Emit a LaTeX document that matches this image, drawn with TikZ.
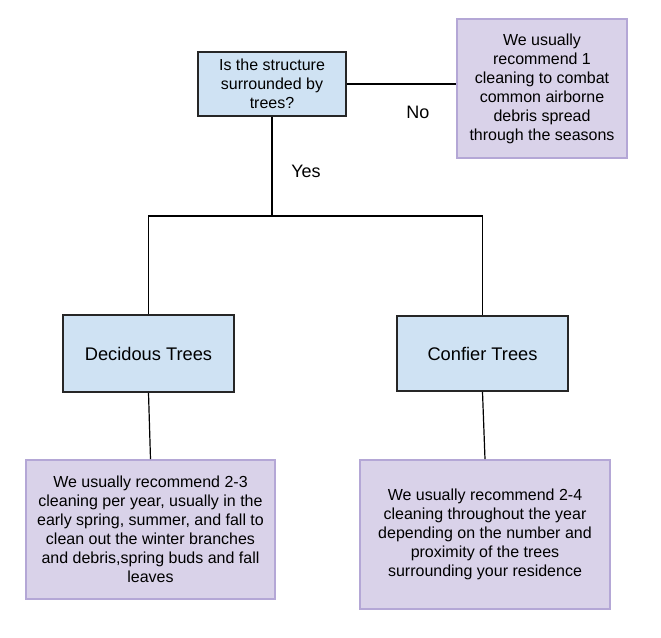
\documentclass[tikz,border=0pt]{standalone}
\usepackage{fontspec}
\setmainfont{Liberation Sans}
\usepackage{tikz}
\usetikzlibrary{positioning}
\definecolor{BoxBlue}{HTML}{CFE2F3}
\definecolor{BoxLilac}{HTML}{D9D2E9}
\definecolor{LilacEdge}{HTML}{B4A7D6}

\begin{document}
\begin{tikzpicture}[x=.75pt,y=-.75pt,
 link/.style={line width=.9pt,draw=black},
 tree/.style={draw=black!85,line width=1.3pt,fill=BoxBlue,align=center,inner sep=0pt},
 note/.style={draw=LilacEdge,line width=1.2pt,fill=BoxLilac,align=center,inner sep=0pt},
 every node/.style={font=\fontsize{12}{14.25}\selectfont}]
\useasboundingbox (0,0) rectangle (661,638);
\node[tree,minimum width=111pt,minimum height=48pt] (q) at (272,84) {Is the structure\\surrounded by\\trees?};
\node[note,minimum width=127.5pt,minimum height=104.25pt] (nobox) at (542,88.5)
 {We usually\\recommend 1\\cleaning to combat\\common airborne\\debris spread\\through the seasons};
\node[tree,minimum width=128.25pt,minimum height=57.75pt,font=\fontsize{13.7}{16}\selectfont] (dec) at (148.5,353.5) {Decidous Trees};
\node[tree,minimum width=128.25pt,minimum height=56.25pt,font=\fontsize{13.7}{16}\selectfont] (con) at (482.5,353.5) {Confier Trees};
\node[note,minimum width=186.75pt,minimum height=104.25pt] (decnote) at (150.5,529.5)
 {We usually recommend 2-3\\cleaning per year, usually in the\\early spring, summer, and fall to\\clean out the winter branches\\and debris,spring buds and fall\\leaves};
\node[note,minimum width=187.5pt,minimum height=111.75pt] (connote) at (485,534.5)
 {We usually recommend 2-4\\cleaning throughout the year\\depending on the number and\\proximity of the trees\\surrounding your residence};
\coordinate (split) at (270,216);
\draw[link] (q.east) -- (q.east -| nobox.west);
\draw[link] (q.south) -- (q.south |- split);
\draw[link] (dec.north) |- (split) -| (con.north);
\draw[link] (dec.south) -- (decnote.north);
\draw[link] (con.south) -- (connote.north);
\node[font=\fontsize{13.5}{16}\selectfont] (yes) at (306,171) {Yes};
\node[font=\fontsize{13.5}{16}\selectfont] (no) at (418,112) {No};
\end{tikzpicture}
\end{document}
